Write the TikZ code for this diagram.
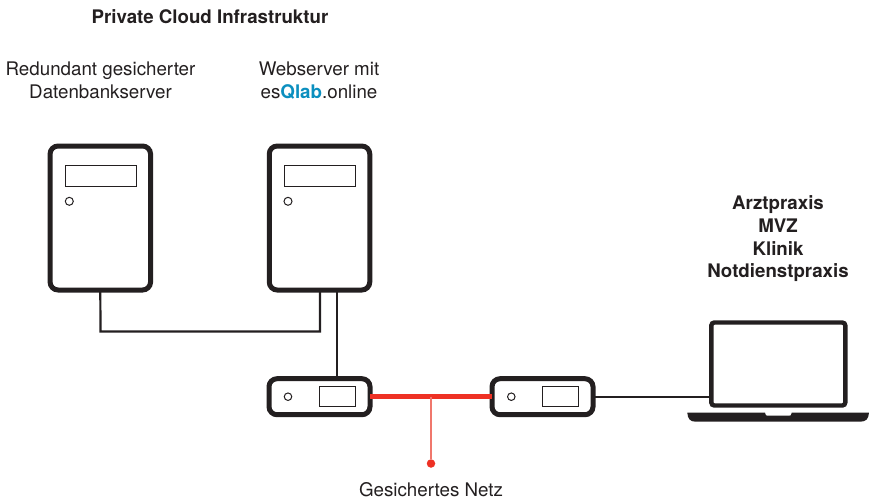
\documentclass[tikz,border=0pt]{standalone}
\usepackage{fontspec}
\setmainfont{TeX Gyre Heros}
\definecolor{ink}{HTML}{231F20}
\definecolor{netred}{HTML}{EE3124}
\definecolor{thinred}{HTML}{F0776C}
\definecolor{qlab}{HTML}{0B8FBF}
\tikzset{
  every node/.style={inner sep=0pt,outer sep=0pt},
  lbl/.style={text=ink,align=center,font=\fontsize{18.75}{22.7}\selectfont},
  hd/.style={lbl,font=\fontsize{18.7}{22.7}\selectfont\bfseries},
  serverbox/.style={draw=ink,line width=5pt,rounded corners=8pt,fill=white,minimum width=100.5pt,minimum height=144pt},
  routerbox/.style={draw=ink,line width=5pt,rounded corners=8pt,fill=white,minimum width=101pt,minimum height=36pt},
  display/.style={draw=ink,line width=1pt,fill=white},
  led/.style={circle,draw=ink,line width=1pt,fill=white,minimum size=8pt},
  wire/.style={draw=ink,line width=2.2pt},
}
\begin{document}
\begin{tikzpicture}[x=1pt,y=-1pt]
\useasboundingbox (0,0) rectangle (869,499);
% texts
\node[hd] (title) at (210,17) {Private Cloud Infrastruktur};
\node[lbl] (dbl) at (100.5,80.5) {Redundant gesicherter\\Datenbankserver};
\node[lbl] (webl) at (319,80.5) {Webserver mit\\es{\bfseries\color{qlab}Qlab}.online};
\node[hd] (sites) at (778,239) {Arztpraxis\\MVZ\\Klinik\\Notdienstpraxis};
\node[lbl] (netl) at (431,490) {Gesichertes Netz};
% servers
\node[serverbox] (s1) at (100.3,218) {};
\node[serverbox] (s2) at (319.5,218) {};
\node[display,minimum width=71pt,minimum height=21pt] (d1) at (100.5,175.5) {};
\node[display,minimum width=71pt,minimum height=21pt] (d2) at (319.5,175.5) {};
\node[led] (l1) at (69.3,201.3) {};
\node[led] (l2) at (288,201.3) {};
% routers
\node[routerbox] (r1) at (319.5,396.7) {};
\node[routerbox] (r2) at (542.5,396.7) {};
\node[display,minimum width=36pt,minimum height=20.5pt] (d3) at (337,396.7) {};
\node[display,minimum width=36pt,minimum height=20.5pt] (d4) at (560.2,396.7) {};
\node[led,minimum size=7.5pt] (l3) at (288,396.7) {};
\node[led,minimum size=7.5pt] (l4) at (511.3,396.7) {};
% laptop
\node[draw=ink,line width=4.4pt,rounded corners=3pt,fill=white,minimum width=134pt,minimum height=83pt] (lap) at (778.3,364) {};
\fill[ink] (687.3,412.7) coordinate (b0) -- (765,412.7) .. controls (765.5,415.7) and (766,415.7) .. (768,415.7) -- (788.7,415.7) .. controls (790.7,415.7) and (791.2,415.7) .. (791.7,412.7) -- (869,412.7) .. controls (868.5,419) and (866,421.7) .. (860,421.7) -- (696,421.7) .. controls (690,421.7) and (687.8,419) .. (687.3,412.7) -- cycle;
% connectors
\coordinate (c1) at (320,331.5);
\coordinate (c2) at (100.5,331.5);
\coordinate (c3) at (337,292);
\coordinate (c4) at (320,292);
\draw[wire,line join=miter] (s1.south) -- (c2) -- (c1) -- (c4);
\draw[wire] (c3) -- (c3 |- r1.north);
\draw[wire] (r2.east) -- (lap.west |- r2.east);
\draw[netred,line width=5pt] (r1.east) -- (r2.west);
\coordinate (t0) at (431,396.7);
\node[circle,fill=netred,minimum size=8.5pt] (dot) at (431,463.5) {};
\draw[thinred,line width=1.4pt] (t0) -- (dot);
\end{tikzpicture}
\end{document}
